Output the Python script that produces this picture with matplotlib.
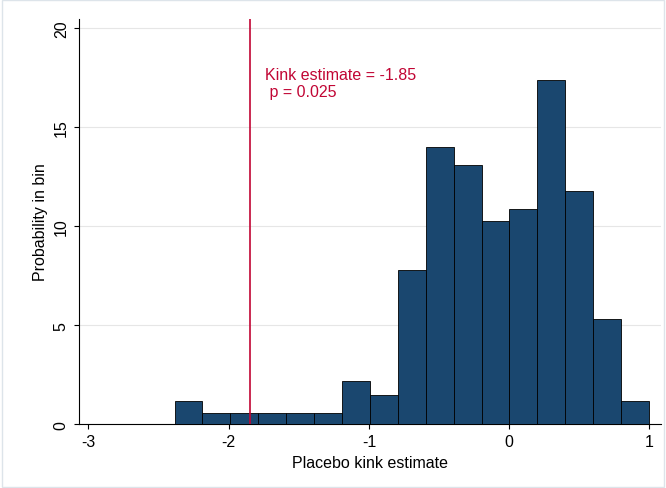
import matplotlib.pyplot as plt
import numpy as np

plt.rcParams['font.family'] = ['Liberation Sans', 'DejaVu Sans']
plt.rcParams['axes.unicode_minus'] = False

bin_start = -2.386
bin_width = 0.199
heights = [1.2, 0.6, 0.6, 0.6, 0.6, 0.6, 2.2, 1.5, 7.8, 14.0, 13.1, 10.3, 10.9, 17.4, 11.8, 5.3, 1.2]
kink = -1.85
p_value = 0.025

fig = plt.figure(figsize=(6.66, 4.89), dpi=100, facecolor='white')
ax = fig.add_axes([0.118, 0.13, 0.874, 0.83])

left = bin_start + bin_width * np.arange(len(heights))
ax.bar(left, heights, width=bin_width, align='edge', color='#1a476f',
       edgecolor='black', linewidth=0.6, zorder=3)
ax.axvline(kink, color='#c10534', linewidth=1.2, zorder=4)
ax.text(-1.74, 18.05, f'Kink estimate = {kink}\n p = {p_value}', color='#c10534',
        fontsize=11.5, va='top', ha='left', linespacing=1.15)

ax.set_xlim(-3.07, 1.08)
ax.set_ylim(0, 20.5)
ax.set_xticks([-3, -2, -1, 0, 1])
ax.set_yticks([0, 5, 10, 15, 20])
ax.set_yticklabels(['0', '5', '10', '15', '20'], rotation=90, va='center')
ax.grid(axis='y', color='#e6e6e6', linewidth=0.8, zorder=0)
ax.spines['top'].set_visible(False)
ax.spines['right'].set_visible(False)
ax.tick_params(labelsize=11.5)
ax.set_xlabel('Placebo kink estimate', fontsize=11.5)
ax.set_ylabel('Probability in bin', fontsize=11.5)

fig.patches.append(plt.Rectangle((0.003, 0.003), 0.994, 0.994, transform=fig.transFigure,
                                 fill=False, edgecolor='#dde4ea', linewidth=1))
fig.savefig('out.png', dpi=100)
